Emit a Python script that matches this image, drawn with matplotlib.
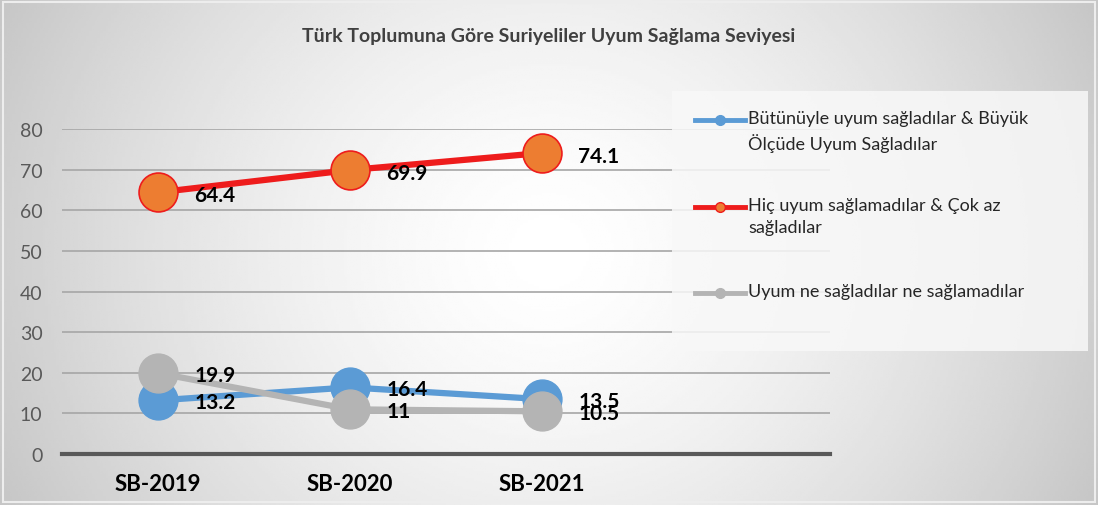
import matplotlib
matplotlib.use("Agg")
import matplotlib.pyplot as plt
import numpy as np
from matplotlib.lines import Line2D
from matplotlib.patches import Rectangle

plt.rcParams['font.family'] = ['Lato', 'DejaVu Sans']

# veriler
kategoriler = ["SB-2019", "SB-2020", "SB-2021"]
uyum_saglayan = [13.2, 16.4, 13.5]
uyum_saglamayan = [64.4, 69.9, 74.1]
ne_ne = [19.9, 11, 10.5]
etiket_uyum = ["13.2", "16.4", "13.5"]
etiket_saglamayan = ["64.4", "69.9", "74.1"]
etiket_ne = ["19.9", "11", "10.5"]
seri_adlari = ["Bütünüyle uyum sağladılar & Büyük\nÖlçüde Uyum Sağladılar",
               "Hiç uyum sağlamadılar & Çok az\nsağladılar",
               "Uyum ne sağladılar ne sağlamadılar"]
baslik = "Türk Toplumuna Göre Suriyeliler Uyum Sağlama Seviyesi"

fig = plt.figure(figsize=(10.98, 5.06), dpi=100)

# arka plan (radyal gradyan)
bg = fig.add_axes([0, 0, 1, 1], zorder=-10)
xx, yy = np.meshgrid(np.linspace(-1, 1, 400), np.linspace(-1, 1, 200))
r = np.sqrt(xx ** 2 + (yy * 0.5) ** 2)
shade = 1.0 - 0.19 * np.clip(r, 0, 1.2) ** 1.5
bg.imshow(shade, cmap='gray', vmin=0, vmax=1, aspect='auto', extent=[0, 1, 0, 1])
bg.set_xlim(0, 1)
bg.set_ylim(0, 1)
bg.axis('off')
bg.add_patch(Rectangle((0.003, 0.006), 0.994, 0.988, fill=False, edgecolor='#EDEDED', lw=1.5))

ax = fig.add_axes([62 / 1098, 51 / 506, 768 / 1098, 325 / 506])
ax.patch.set_alpha(0)
x = np.arange(len(kategoriler))

ax.plot(x, uyum_saglayan, color='#5B9BD5', lw=4.5, marker='o', ms=28,
        markerfacecolor='#5B9BD5', markeredgecolor='#5B9BD5', zorder=3, clip_on=False)
ax.plot(x, uyum_saglamayan, color='#EE1C1C', lw=4.5, marker='o', ms=28,
        markerfacecolor='#ED7D31', markeredgecolor='#EE1C1C', markeredgewidth=1.2,
        zorder=3, clip_on=False)
ax.plot(x, ne_ne, color='#B4B4B4', lw=4.5, marker='o', ms=28,
        markerfacecolor='#B4B4B4', markeredgecolor='#B4B4B4', zorder=4, clip_on=False)

# veri etiketleri
for xi, v, t in zip(x, uyum_saglamayan, etiket_saglamayan):
    ax.annotate(t, (xi, v), xytext=(26, -2), textcoords='offset points',
                ha='left', va='center', fontsize=15, fontweight='bold', color='black', zorder=6)
for xi, v, t in zip(x, uyum_saglayan, etiket_uyum):
    ax.annotate(t, (xi, v), xytext=(26, -1), textcoords='offset points',
                ha='left', va='center', fontsize=15, fontweight='bold', color='black', zorder=6)
for xi, v, t in zip(x, ne_ne, etiket_ne):
    ax.annotate(t, (xi, v), xytext=(26, -1), textcoords='offset points',
                ha='left', va='center', fontsize=15, fontweight='bold', color='black', zorder=6)

ax.set_xlim(-0.5, 3.5)
ax.set_ylim(0, 80)
ax.set_yticks(np.arange(0, 81, 10))
ax.set_xticks(x)
ax.set_xticklabels(kategoriler, fontsize=16, fontweight='bold', color='black')
ax.tick_params(axis='y', labelsize=14, labelcolor='#595959', length=0, pad=14)
ax.tick_params(axis='x', length=0, pad=14)
ax.grid(axis='y', color='#A6A6A6', lw=1.2)
ax.set_axisbelow(True)
for s in ['top', 'right', 'left']:
    ax.spines[s].set_visible(False)
ax.spines['bottom'].set_color('#595959')
ax.spines['bottom'].set_linewidth(3)

fig.text(0.5, 0.927, baslik, ha='center', va='center', fontsize=14,
         fontweight='bold', color='#404040')

# açıklama kutusu
fig.patches.append(Rectangle((672 / 1098, 1 - 352 / 506), 416 / 1098, 260 / 506,
                             transform=fig.transFigure, facecolor='#F8F8F8',
                             edgecolor='none', alpha=0.85, zorder=1))
renkler = [('#5B9BD5', '#5B9BD5', '#5B9BD5'),
           ('#EE1C1C', '#ED7D31', '#EE1C1C'),
           ('#B4B4B4', '#B4B4B4', '#B4B4B4')]
satir_y = [121, 208, 294]
for (lc, fc, ec), ad, yp in zip(renkler, seri_adlari, satir_y):
    yf = 1 - yp / 506
    fig.lines.append(Line2D([695 / 1098, 745 / 1098], [yf, yf], transform=fig.transFigure,
                            color=lc, lw=3.5, marker=None, zorder=2))
    fig.lines.append(Line2D([720 / 1098], [yf], transform=fig.transFigure, color=lc,
                            marker='o', ms=7, markerfacecolor=fc, markeredgecolor=ec, zorder=3))
    fig.text(748 / 1098, yf + 0.019, ad, ha='left', va='top', fontsize=13,
             color='#262626', linespacing=1.4, zorder=3)

fig.savefig('out.png', dpi=100)
